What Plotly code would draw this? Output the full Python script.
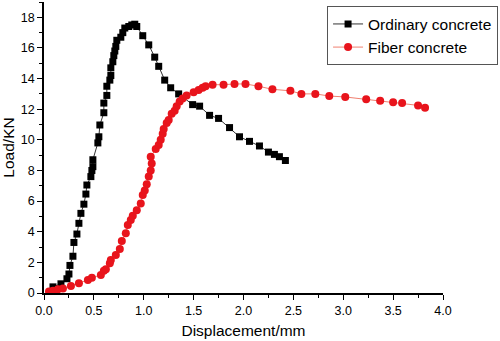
import plotly.graph_objects as go

ord_x = [0.09, 0.17, 0.23, 0.25, 0.26, 0.29, 0.30, 0.33, 0.35, 0.37, 0.40, 0.42, 0.43, 0.47, 0.48,
         0.49, 0.49, 0.54, 0.55, 0.56, 0.60, 0.60, 0.63, 0.63, 0.66, 0.67, 0.67, 0.69, 0.70, 0.71,
         0.72, 0.73, 0.77, 0.79, 0.81, 0.85, 0.88, 0.91, 0.93, 0.99, 1.05, 1.11, 1.15, 1.21, 1.27,
         1.35, 1.49, 1.56, 1.66, 1.75, 1.86, 1.96, 2.06, 2.16, 2.25, 2.31, 2.36, 2.42]
ord_y = [0.4, 0.6, 0.93, 1.24, 1.8, 2.4, 3.3, 3.85, 4.55, 5.2, 5.8, 6.46, 7.05, 7.6, 8.0,
         8.25, 8.7, 9.8, 10.2, 10.97, 11.77, 12.4, 12.9, 13.5, 13.9, 14.2, 14.7, 15.1, 15.5, 15.8,
         16.1, 16.5, 16.7, 17.0, 17.3, 17.4, 17.5, 17.55, 17.4, 16.8, 16.2, 15.4, 14.8, 13.9, 13.4,
         13.0, 12.3, 12.2, 11.6, 11.4, 10.8, 10.2, 9.9, 9.6, 9.2, 9.05, 8.9, 8.65]

fib_x = [0.05, 0.09, 0.14, 0.19, 0.27, 0.35, 0.44, 0.48, 0.57, 0.60, 0.62, 0.66, 0.67, 0.72,
         0.76, 0.78, 0.82, 0.84, 0.87, 0.89, 0.93, 0.97, 0.99, 1.01, 1.03, 1.05, 1.07, 1.08,
         1.07, 1.12, 1.15, 1.17, 1.19, 1.20, 1.23, 1.25, 1.28, 1.31, 1.33, 1.36, 1.39, 1.43,
         1.50, 1.55, 1.59, 1.62, 1.69, 1.80, 1.91, 2.02, 2.15, 2.29, 2.47, 2.58, 2.72, 2.86,
         3.02, 3.23, 3.37, 3.50, 3.59, 3.75, 3.82]
fib_y = [0.1, 0.15, 0.24, 0.3, 0.46, 0.63, 0.85, 1.0, 1.17, 1.46, 1.55, 1.94, 2.15, 2.48,
         2.87, 3.4, 3.9, 4.44, 4.76, 5.05, 5.4, 5.85, 6.4, 6.7, 7.1, 7.6, 8.0, 8.45,
         8.9, 9.4, 9.66, 10.0, 10.4, 10.7, 11.1, 11.3, 11.7, 11.9, 12.2, 12.5, 12.7, 12.9,
         13.1, 13.25, 13.4, 13.5, 13.6, 13.6, 13.65, 13.65, 13.5, 13.3, 13.2, 13.0, 13.0, 12.86,
         12.8, 12.65, 12.55, 12.45, 12.4, 12.25, 12.1]

FONT = "Arial, Liberation Sans, sans-serif"

fig = go.Figure()
fig.add_trace(go.Scatter(
    x=ord_x, y=ord_y, mode="lines+markers", name="Ordinary concrete",
    line=dict(color="#333333", width=1),
    marker=dict(symbol="square", size=7, color="black"),
))
fig.add_trace(go.Scatter(
    x=fib_x, y=fib_y, mode="lines+markers", name="Fiber concrete",
    line=dict(color="#f08070", width=1),
    marker=dict(symbol="circle", size=8, color="#e8141c"),
))

axis_common = dict(
    showline=True, linecolor="black", linewidth=1.5, mirror=False,
    ticks="outside", ticklen=5, tickwidth=1.2, tickcolor="black",
    showgrid=False, zeroline=False,
    tickfont=dict(family=FONT, size=12.5, color="black"),
)

fig.update_xaxes(
    range=[0, 4], tick0=0, dtick=0.5, tickformat=".1f",
    minor=dict(ticks="outside", ticklen=3, tickcolor="black", dtick=0.25, tick0=0),
    title=dict(text="Displacement/mm", font=dict(family=FONT, size=15.5, color="black"), standoff=8),
    **axis_common,
)
fig.update_yaxes(
    range=[0, 19], tick0=0, dtick=2,
    minor=dict(ticks="outside", ticklen=3, tickcolor="black", dtick=1, tick0=0),
    title=dict(text="Load/KN", font=dict(family=FONT, size=15.5, color="black"), standoff=6),
    **axis_common,
)

fig.update_layout(
    width=500, height=341,
    margin=dict(l=44, r=57, t=2, b=48),
    plot_bgcolor="white", paper_bgcolor="white",
    legend=dict(
        x=1.138, y=0.985, xref="paper", yref="paper", xanchor="right", yanchor="top",
        bordercolor="#555555", borderwidth=1, bgcolor="white",
        font=dict(family=FONT, size=15.5, color="black"),
        tracegroupgap=0, itemwidth=30,
    ),
    showlegend=True,
)

fig.write_html("out.html")
